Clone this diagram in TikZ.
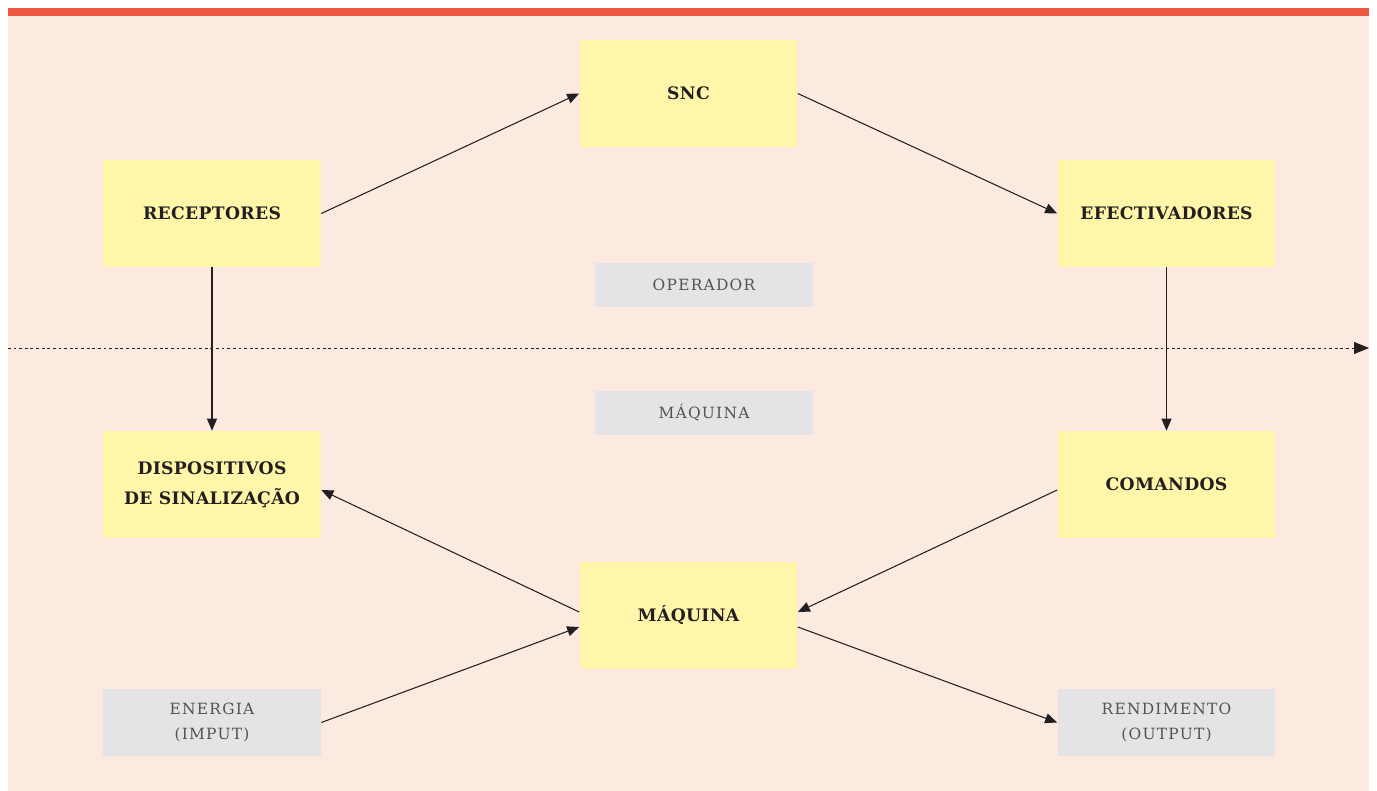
\documentclass[tikz,border=0pt]{standalone}
\usepackage{fontspec}
\setmainfont{DejaVu Serif}
\newfontfamily\boxfont[LetterSpace=2]{DejaVu Serif}
\newfontfamily\tagfont[LetterSpace=8]{DejaVu Serif}
\usetikzlibrary{arrows.meta}
\definecolor{pinkbg}{HTML}{FCE9E0}
\definecolor{redbar}{HTML}{EF5841}
\definecolor{boxyellow}{HTML}{FFF6A9}
\definecolor{tagray}{HTML}{E4E4E6}
\definecolor{inkdark}{HTML}{231F20}
\definecolor{inkgray}{HTML}{55524F}
\begin{document}
\begin{tikzpicture}[x=0.02cm,y=-0.02cm,
    bloco/.style={fill=boxyellow,minimum width=4.36cm,minimum height=2.14cm,inner sep=0pt,
        align=center,text=inkdark,font=\boxfont\fontsize{9.8}{17}\selectfont\bfseries},
    rotulo/.style={fill=tagray,minimum width=4.36cm,inner sep=0pt,align=center,
        text=inkgray,font=\tagfont\fontsize{8.8}{14.2}\selectfont},
    seta/.style={-{Triangle[length=2.4mm,width=2mm]},inkdark,line width=0.6pt}]
    \useasboundingbox (0,0) rectangle (1377,791);
    \fill[pinkbg] (8,8) rectangle (1369,791);
    \fill[redbar] (8,8) rectangle (1369,16);
    \draw[seta,dash pattern=on 1.6pt off 1.6pt,line width=0.55pt,
        -{Triangle[length=3mm,width=2.4mm]}] (8,348) -- (1369,348);
    % blocos
    \node[bloco] (snc) at (688.5,93.5) {SNC};
    \node[bloco] (rec) at (212,213.5) {RECEPTORES};
    \node[bloco] (efe) at (1166.5,213.5) {EFECTIVADORES};
    \node[bloco] (dis) at (212,484.5) {DISPOSITIVOS\\DE SINALIZAÇÃO};
    \node[bloco] (com) at (1166.5,484.5) {COMANDOS};
    \node[bloco] (maq) at (688.5,615.5) {MÁQUINA};
    % rotulos
    \node[rotulo,minimum width=4.36cm,minimum height=0.88cm] (ope) at (704,285) {OPERADOR};
    \node[rotulo,minimum width=4.36cm,minimum height=0.88cm] (maqr) at (704,413) {MÁQUINA};
    \node[rotulo,minimum height=1.34cm] (ene) at (212,722.5) {ENERGIA\\(IMPUT)};
    \node[rotulo,minimum height=1.34cm] (ren) at (1166.5,722.5) {RENDIMENTO\\(OUTPUT)};
    % ligacoes
    \draw[seta] (rec.east) -- (snc.west);
    \draw[seta] (snc.east) -- (efe.west);
    \draw[seta] (rec.south) -- (dis.north);
    \draw[seta] (efe.south) -- (com.north);
    \draw[seta] ([yshift=-0.11cm]com.west) -- ([yshift=0.07cm]maq.east);
    \draw[seta] ([yshift=0.07cm]maq.west) -- ([yshift=-0.11cm]dis.east);
    \draw[seta] (ene.east) -- ([yshift=-0.23cm]maq.west);
    \draw[seta] ([yshift=-0.23cm]maq.east) -- (ren.west);
\end{tikzpicture}
\end{document}
